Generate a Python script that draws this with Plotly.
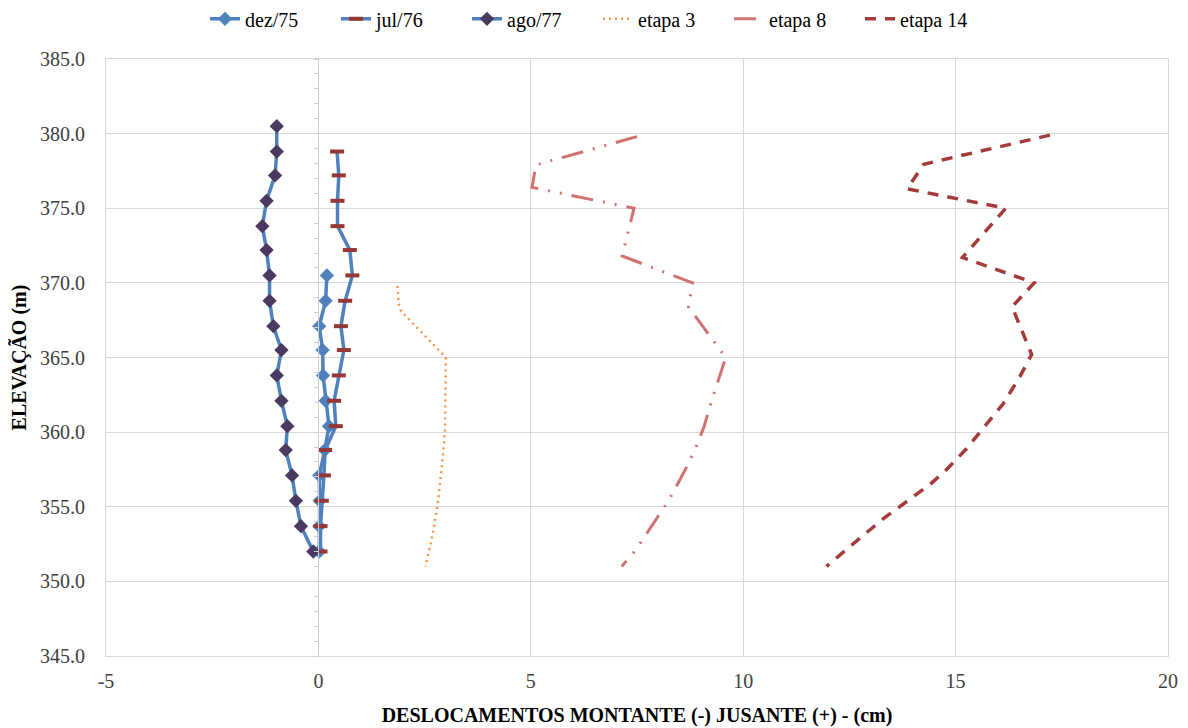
import plotly.graph_objects as go

# Elevations of the inclinometer readings (m)
elev_obs = [380.5, 378.8, 377.2, 375.5, 373.8, 372.2, 370.5, 368.8, 367.1, 365.5,
            363.8, 362.1, 360.4, 358.8, 357.1, 355.4, 353.7, 352.0]

# dez/75 (only from 370.5 down)
dez75_elev = [370.5, 368.8, 367.1, 365.5, 363.8, 362.1, 360.4, 358.8, 357.1, 355.4, 353.7, 352.0]
dez75_x = [0.20, 0.17, 0.02, 0.10, 0.11, 0.17, 0.25, 0.15, 0.02, 0.03, 0.02, 0.02]

# jul/76 (from 378.8 down)
jul76_elev = [378.8, 377.2, 375.5, 373.8, 372.2, 370.5, 368.8, 367.1, 365.5,
              363.8, 362.1, 360.4, 358.8, 357.1, 355.4, 353.7, 352.0]
jul76_x = [0.44, 0.48, 0.45, 0.45, 0.74, 0.80, 0.63, 0.53, 0.60, 0.48, 0.37, 0.41,
           0.16, 0.13, 0.08, 0.05, 0.05]

# ago/77
ago77_x = [-0.98, -0.98, -1.02, -1.22, -1.32, -1.22, -1.15, -1.15, -1.06, -0.87,
           -0.98, -0.87, -0.73, -0.77, -0.62, -0.53, -0.41, -0.12]

# etapa 3 (computed)
et3_elev = [369.8, 368.6, 368.1, 365.0, 362.5, 360.0, 357.5, 355.0, 353.0, 351.0]
et3_x = [1.86, 1.89, 1.95, 3.00, 2.99, 2.98, 2.90, 2.80, 2.68, 2.52]

# etapa 8
et8_elev = [379.8, 377.9, 376.4, 375.0, 371.8, 370.0, 368.4, 365.0, 362.4, 360.3,
            358.8, 357.5, 355.4, 354.1, 352.1, 351.0]
et8_x = [7.50, 5.12, 5.03, 7.43, 7.15, 8.81, 8.71, 9.59, 9.29, 9.07,
         8.86, 8.64, 8.24, 7.94, 7.47, 7.14]

# etapa 14
et14_elev = [379.9, 377.95, 376.3, 375.0, 371.7, 370.0, 368.4, 365.2, 363.7, 361.9,
             360.4, 358.9, 357.5, 356.5, 355.5, 354.2, 352.9, 351.0]
et14_x = [17.22, 14.25, 13.86, 16.18, 15.16, 16.85, 16.33, 16.79, 16.51, 16.12,
          15.69, 15.26, 14.79, 14.40, 13.92, 13.30, 12.75, 11.96]

x_ticks = [-5, 0, 5, 10, 15, 20]
y_ticks = [345, 350, 355, 360, 365, 370, 375, 380, 385]

BLUE = "#4F81BD"
FONT = "Liberation Serif, DejaVu Serif, serif"
FS = 20
GRID = "#D9D9D9"

fig = go.Figure()
fig.add_trace(go.Scatter(x=dez75_x, y=dez75_elev, name="dez/75", mode="lines+markers",
                         line=dict(color=BLUE, width=3.5),
                         marker=dict(symbol="diamond", size=11, color=BLUE)))
fig.add_trace(go.Scatter(x=jul76_x, y=jul76_elev, name="jul/76", mode="lines+markers",
                         line=dict(color=BLUE, width=3.5),
                         marker=dict(symbol="line-ew", size=10, color="#953735",
                                     line=dict(color="#953735", width=4))))
fig.add_trace(go.Scatter(x=ago77_x, y=elev_obs, name="ago/77", mode="lines+markers",
                         line=dict(color=BLUE, width=3.5),
                         marker=dict(symbol="diamond", size=11, color="#4A3A61")))
fig.add_trace(go.Scatter(x=et3_x, y=et3_elev, name="etapa 3", mode="lines",
                         line=dict(color="#F79646", width=2.5, dash="2px,4px")))
fig.add_trace(go.Scatter(x=et8_x, y=et8_elev, name="etapa 8", mode="lines",
                         line=dict(color="#D07272", width=3,
                                   dash="22px,10px,2px,10px,2px,10px")))
fig.add_trace(go.Scatter(x=et14_x, y=et14_elev, name="etapa 14", mode="lines",
                         line=dict(color="#A33B3B", width=3.5, dash="11px,9px")))

fig.update_layout(
    width=1180, height=720,
    margin=dict(l=98, r=20, t=51, b=72, autoexpand=False),
    paper_bgcolor="white", plot_bgcolor="white",
    font=dict(family=FONT, size=FS, color="#404040"),
    showlegend=True,
    legend=dict(orientation="h", xref="container", x=0.5, xanchor="center",
                yref="container", y=0.985, yanchor="middle", entrywidth=86,
                font=dict(family=FONT, size=FS, color="#000000"),
                tracegroupgap=0),
    xaxis=dict(range=[-5, 20], tickvals=x_ticks, ticktext=[str(v) for v in x_ticks],
               showgrid=True, gridcolor=GRID, gridwidth=1, automargin=False,
               zeroline=False, showline=True, linecolor=GRID, mirror=True,
               ticks="", ticklabelstandoff=7,
               tickfont=dict(family=FONT, size=FS, color="#404040"),
               title=dict(text="<b>DESLOCAMENTOS MONTANTE (-) JUSANTE (+) - (cm)</b>",
                          font=dict(family=FONT, size=FS, color="#000000"), standoff=16)),
    yaxis=dict(range=[345, 385], tickvals=y_ticks, tickformat=".1f",
               showgrid=True, gridcolor=GRID, gridwidth=1, automargin=False,
               zeroline=False, showline=True, linecolor=GRID, mirror=True,
               ticks="", ticklabelstandoff=16,
               tickfont=dict(family=FONT, size=FS, color="#404040"),
               title=dict(text="<b>ELEVAÇÃO (m)</b>",
                          font=dict(family=FONT, size=FS, color="#000000"), standoff=12)),
    yaxis2=dict(range=[345, 385], overlaying="y", anchor="free", position=0.2,
                side="left", showgrid=False, zeroline=False, showticklabels=False,
                showline=True, linecolor="#CFCFCF", linewidth=1, automargin=False,
                ticks="outside", ticklen=4, tickcolor="#CFCFCF", dtick=1, tick0=345),
)
# invisible trace so yaxis2 is rendered
fig.add_trace(go.Scatter(x=[None], y=[None], yaxis="y2", showlegend=False, hoverinfo="skip"))

fig.write_html("out.html")
